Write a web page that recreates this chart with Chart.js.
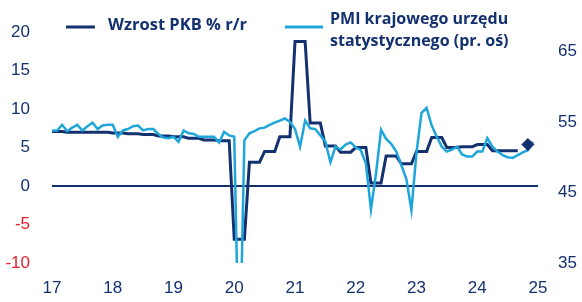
<!DOCTYPE html>
<html>
<head>
<meta charset="utf-8">
<script src="https://cdn.jsdelivr.net/npm/chart.js@4.4.1/dist/chart.umd.min.js"></script>
<style>
  html, body { margin: 0; padding: 0; background: #fff; }
  #wrap { width: 582px; height: 302px; }
</style>
</head>
<body>
<div id="wrap"><canvas id="chart" width="582" height="302"></canvas></div>
<script>
const navy = '#13306f';
const lightBlue = '#1ea6da';
const red = '#e3212b';

// months Jan 2017 .. Jan 2025
const yearLabels = ['17', '18', '19', '20', '21', '22', '23', '24', '25'];
const months = [];
yearLabels.forEach((y, i) => {
  const n = i === yearLabels.length - 1 ? 1 : 12;
  for (let m = 1; m <= n; m++) months.push(y + '-' + m);
});

// GDP y/y, quarterly, Q1 2017 .. Q3 2024
const gdpQuarterly = [
  7.1, 7.0, 7.0, 7.0,
  6.9, 6.8, 6.7, 6.5,
  6.4, 6.2, 6.0, 5.9,
  -6.9, 3.1, 4.5, 6.4,
  18.8, 8.2, 5.2, 4.4,
  5.0, 0.4, 3.9, 2.9,
  4.5, 6.3, 5.0, 5.1,
  5.4, 4.6, 4.6
];
const gdpForecast = 5.4;
const forecastMonth = 94;

// PMI (right axis), monthly Jan 2017 .. Dec 2024
const pmi = [
  53.8, 53.8, 54.6, 53.7, 54.2, 54.6, 53.8, 54.4, 54.9, 54.0, 54.5, 54.6,
  54.6, 52.9, 53.8, 54.0, 54.4, 54.5, 53.8, 54.0, 54.0, 53.3, 52.8, 52.7,
  52.9, 52.2, 53.8, 53.4, 53.3, 52.9, 52.9, 52.9, 52.9, 52.1, 53.6, 53.1,
  52.9, 18.0, 52.4, 53.4, 53.7, 54.1, 54.2, 54.6, 54.9, 55.2, 55.5, 55.0,
  54.0, 51.5, 55.2, 54.1, 54.0, 53.1, 52.2, 49.3, 51.5, 51.1, 51.8, 52.1,
  51.4, 51.0, 49.1, 42.6, 47.7, 53.9, 52.6, 51.9, 50.8, 48.9, 46.9, 42.5,
  50.7, 56.3, 57.0, 54.5, 52.9, 51.5, 50.8, 51.1, 51.5, 50.4, 50.1, 50.1,
  50.8, 50.8, 52.7, 51.5, 50.8, 50.3, 50.0, 49.9, 50.3, 50.7, 51.0, 52.2
];

const leftTicks = [-10, -5, 0, 5, 10, 15, 20];
const rightTicks = [35, 45, 55, 65];

const gdpMonthly = gdpQuarterly.flatMap(v => [v, v, v]);
const forecastData = months.map((_, i) => i === forecastMonth ? gdpForecast : null);

const legendPlugin = {
  id: 'legendPlugin',
  afterDatasetsDraw(chart) {
    const ctx = chart.ctx;
    ctx.save();
    ctx.lineCap = 'butt';
    ctx.lineWidth = 3;
    ctx.strokeStyle = navy;
    ctx.beginPath(); ctx.moveTo(66, 27); ctx.lineTo(95, 27); ctx.stroke();
    ctx.strokeStyle = lightBlue;
    ctx.beginPath(); ctx.moveTo(285, 27); ctx.lineTo(323, 27); ctx.stroke();
    ctx.fillStyle = navy;
    ctx.font = "700 16.5px 'Open Sans', sans-serif";
    ctx.textBaseline = 'middle';
    ctx.textAlign = 'left';
    ctx.fillText('Wzrost PKB % r/r', 108, 25);
    ctx.font = "700 16px 'Open Sans', sans-serif";
    ctx.fillText('PMI krajowego urzędu', 330, 19);
    ctx.fillText('statystycznego (pr. oś)', 330, 41);
    ctx.restore();
  }
};

new Chart(document.getElementById('chart'), {
  type: 'line',
  data: {
    labels: months,
    datasets: [
      {
        label: 'Prognoza',
        data: forecastData,
        yAxisID: 'y',
        showLine: false,
        pointStyle: 'rectRot',
        pointRadius: 6,
        backgroundColor: navy,
        borderColor: navy
      },
      {
        label: 'PMI krajowego urzędu statystycznego (pr. oś)',
        data: pmi,
        yAxisID: 'y2',
        borderColor: lightBlue,
        borderWidth: 2.5,
        pointRadius: 0,
        tension: 0
      },
      {
        label: 'Wzrost PKB % r/r',
        data: gdpMonthly,
        yAxisID: 'y',
        borderColor: navy,
        borderWidth: 3,
        pointRadius: 0,
        tension: 0
      }
    ]
  },
  plugins: [legendPlugin],
  options: {
    responsive: false,
    animation: false,
    layout: { padding: { top: 23, left: 0, right: 0, bottom: 0 } },
    plugins: { legend: { display: false }, tooltip: { enabled: false } },
    scales: {
      x: {
        offset: false,
        grid: { display: false, drawTicks: false },
        border: { display: false },
        afterFit(scale) { scale.height = 39; },
        ticks: {
          autoSkip: false,
          maxRotation: 0,
          padding: 15,
          color: navy,
          font: { size: 17, weight: 500 },
          callback(value, index) {
            return index % 12 === 0 ? yearLabels[index / 12] : null;
          }
        }
      },
      y: {
        position: 'left',
        min: -10,
        max: 20,
        afterFit(scale) { scale.width = 52; },
        afterBuildTicks(scale) { scale.ticks = leftTicks.map(v => ({ value: v })); },
        grid: {
          drawTicks: false,
          lineWidth: 2,
          color: ctx => ctx.tick && ctx.tick.value === 0 ? navy : 'rgba(0,0,0,0)'
        },
        border: { display: false },
        ticks: {
          padding: 22,
          font: { size: 17, weight: 500 },
          color: ctx => ctx.tick && ctx.tick.value < 0 ? red : navy
        }
      },
      y2: {
        position: 'right',
        min: 35,
        max: 67.74,
        afterFit(scale) { scale.width = 44; },
        afterBuildTicks(scale) { scale.ticks = rightTicks.map(v => ({ value: v })); },
        grid: { display: false, drawTicks: false },
        border: { display: false },
        ticks: {
          padding: 20,
          font: { size: 17, weight: 500 },
          color: navy
        }
      }
    }
  }
});
</script>
</body>
</html>
